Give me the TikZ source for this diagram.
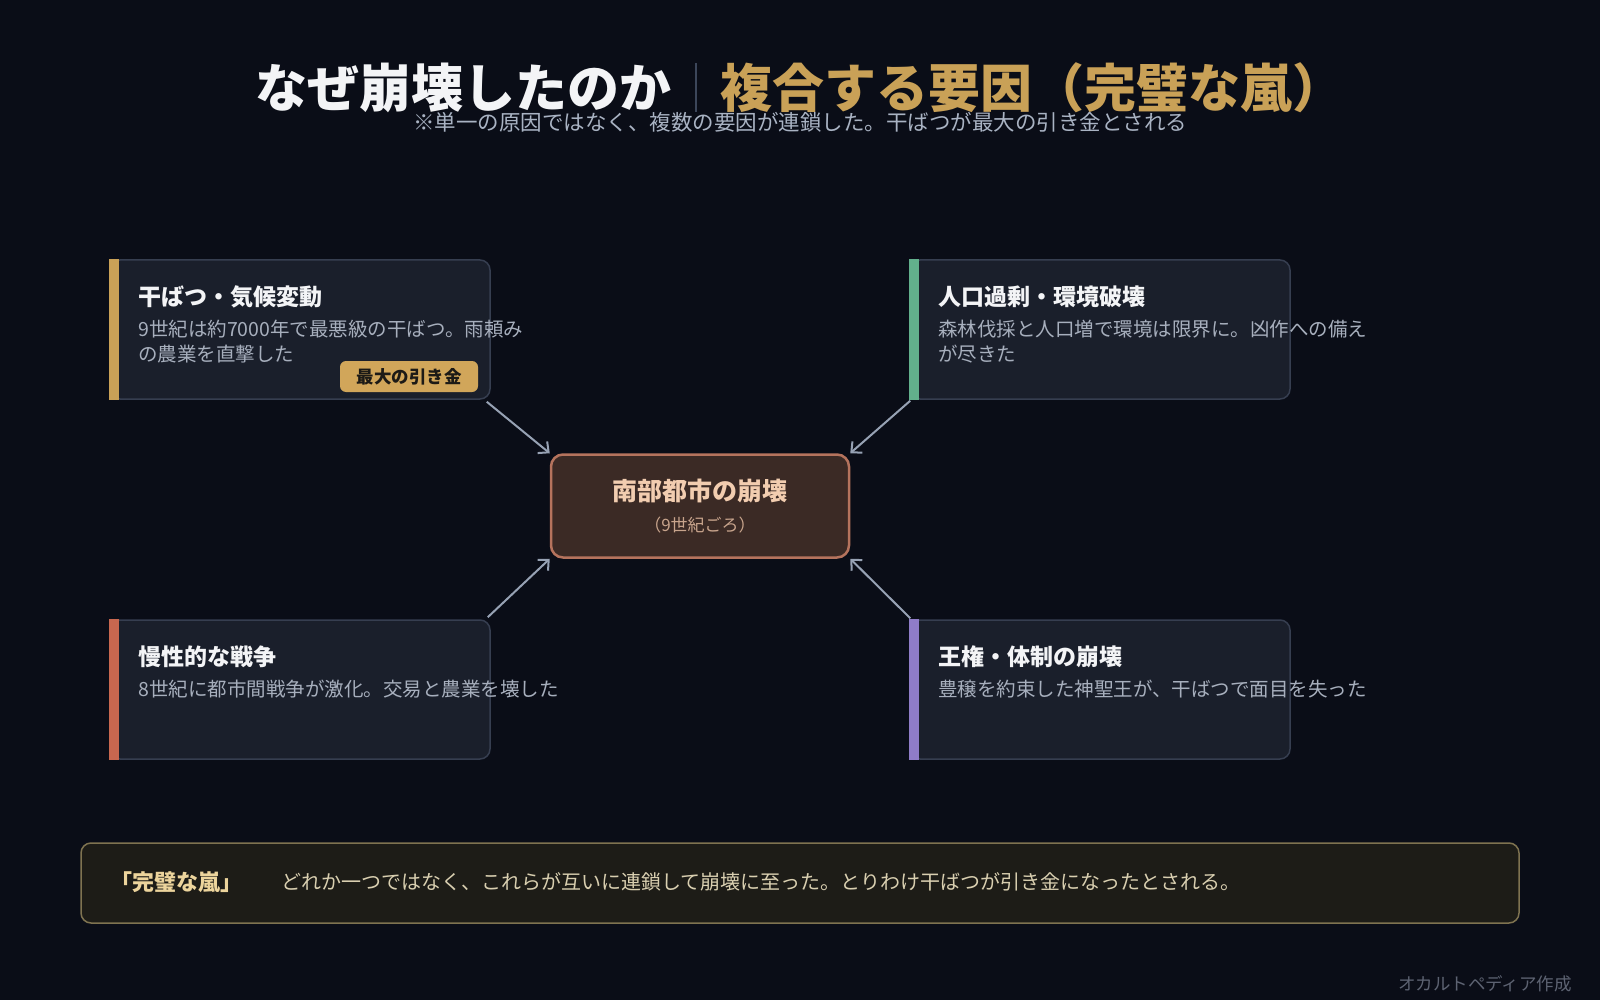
\documentclass[tikz,border=0pt]{standalone}
\usepackage{fontspec}
\setmainfont{Noto Sans CJK JP}
\usetikzlibrary{arrows.meta}
\definecolor{bg}{HTML}{0A0D17}
\definecolor{cardfill}{HTML}{1A1F2B}
\definecolor{cardline}{HTML}{363E50}
\definecolor{titlewhite}{HTML}{F3F4F6}
\definecolor{bodygray}{HTML}{A7AFBD}
\definecolor{subgray}{HTML}{A9B3C3}
\definecolor{gold}{HTML}{C9A157}
\definecolor{badgefill}{HTML}{D1A65A}
\definecolor{badgetext}{HTML}{1C1A16}
\definecolor{accgreen}{HTML}{62B08C}
\definecolor{accred}{HTML}{C8674F}
\definecolor{accpurple}{HTML}{8F7CC8}
\definecolor{cfill}{HTML}{3B2A25}
\definecolor{cline}{HTML}{B5735D}
\definecolor{ctitle}{HTML}{F2CDB0}
\definecolor{csub}{HTML}{C8A48C}
\definecolor{bfill}{HTML}{1D1C17}
\definecolor{bline}{HTML}{7F7350}
\definecolor{blabel}{HTML}{ECD49C}
\definecolor{btext}{HTML}{D9CFB0}
\definecolor{foot}{HTML}{5D6372}
\definecolor{arrowcol}{HTML}{97A2B4}
\definecolor{sepcol}{HTML}{3C465A}
\tikzset{
  card/.style={draw=cardline, line width=1.5pt, fill=cardfill, rounded corners=10pt,
    minimum width=380pt, minimum height=139pt, inner sep=0pt},
  cardtitle/.style={anchor=west, inner sep=0pt, text=titlewhite, font=\fontsize{23}{28}\selectfont\bfseries},
  cardbody/.style={anchor=west, inner sep=0pt, text=bodygray, font=\fontsize{19.5}{24}\selectfont},
  conn/.style={draw=arrowcol, line width=2pt, -{Straight Barb[length=8pt,width=15pt,line width=2pt]}},
  txt/.style={inner sep=0pt}
}
\begin{document}
\begin{tikzpicture}[x=1pt,y=-1pt]
\fill[bg] (0,0) rectangle (1600,1000);
\useasboundingbox (0,0) rectangle (1600,1000);

% title
\node[txt, anchor=west, text=titlewhite, font=\fontsize{52}{60}\selectfont\bfseries] (t1) at (255,88) {なぜ崩壊したのか};
\coordinate (sepa) at (696,63);
\coordinate (sepb) at (696,112);
\draw[sepcol, line width=2pt] (sepa) -- (sepb);
\node[txt, anchor=west, text=gold, font=\fontsize{52}{60}\selectfont\bfseries] (t2) at (720,88) {複合する要因（完璧な嵐）};
\node[txt, text=subgray, font=\fontsize{21.5}{26}\selectfont] (sub) at (800,122.5) {※単一の原因ではなく、複数の要因が連鎖した。干ばつが最大の引き金とされる};

% cards
\node[card] (c1) at (300,329.5) {};
\fill[gold] (c1.north west) rectangle ([xshift=10pt]c1.south west);
\node[cardtitle] (c1t) at (138,297) {干ばつ・気候変動};
\node[cardbody] (c1b) at (138,329) {9世紀は約7000年で最悪級の干ばつ。雨頼み};
\node[cardbody] (c1c) at (138,354.5) {の農業を直撃した};
\node[fill=badgefill, rounded corners=6pt, minimum width=138pt, minimum height=31pt, inner sep=0pt,
  text=badgetext, font=\fontsize{17.5}{20}\selectfont\bfseries] (badge) at (409,376.5) {最大の引き金};

\node[card] (c2) at (1100,329.5) {};
\fill[accgreen] (c2.north west) rectangle ([xshift=10pt]c2.south west);
\node[cardtitle] (c2t) at (938,297) {人口過剰・環境破壊};
\node[cardbody] (c2b) at (938,329) {森林伐採と人口増で環境は限界に。凶作への備え};
\node[cardbody] (c2c) at (938,354.5) {が尽きた};

\node[card] (c3) at (300,689.5) {};
\fill[accred] (c3.north west) rectangle ([xshift=10pt]c3.south west);
\node[cardtitle] (c3t) at (138,657) {慢性的な戦争};
\node[cardbody] (c3b) at (138,689) {8世紀に都市間戦争が激化。交易と農業を壊した};

\node[card] (c4) at (1100,689.5) {};
\fill[accpurple] (c4.north west) rectangle ([xshift=10pt]c4.south west);
\node[cardtitle] (c4t) at (938,657) {王権・体制の崩壊};
\node[cardbody] (c4b) at (938,689) {豊穣を約束した神聖王が、干ばつで面目を失った};

% center
\node[draw=cline, line width=2.5pt, fill=cfill, rounded corners=12pt, minimum width=298pt, minimum height=103pt, inner sep=0pt] (ctr) at (700,506) {};
\node[txt, text=ctitle, font=\fontsize{25}{30}\selectfont\bfseries] (ctrt) at (700,491) {南部都市の崩壊};
\node[txt, text=csub, font=\fontsize{17}{20}\selectfont] (ctrs) at (700,525) {（9世紀ごろ）};

% connectors
\draw[conn] ([xshift=-4pt,yshift=-2pt]c1.south east) -- (ctr.north west);
\draw[conn] ([xshift=1pt,yshift=-1pt]c2.south west) -- (ctr.north east);
\draw[conn] ([xshift=-3pt,yshift=2pt]c3.north east) -- (ctr.south west);
\draw[conn] ([xshift=1pt,yshift=1pt]c4.north west) -- (ctr.south east);

% bottom box
\node[draw=bline, line width=1.5pt, fill=bfill, rounded corners=10pt, minimum width=1438pt, minimum height=80pt, inner sep=0pt] (bot) at (800,883) {};
\node[txt, anchor=west, text=blabel, font=\fontsize{22}{26}\selectfont\bfseries] (botl) at (110,882) {「完璧な嵐」};
\node[txt, anchor=west, text=btext, font=\fontsize{20}{24}\selectfont] (bott) at (281,882) {どれか一つではなく、これらが互いに連鎖して崩壊に至った。とりわけ干ばつが引き金になったとされる。};

% footer
\node[txt, anchor=east, text=foot, font=\fontsize{17.5}{20}\selectfont] (ft) at (1572,984) {オカルトペディア作成};
\end{tikzpicture}
\end{document}
